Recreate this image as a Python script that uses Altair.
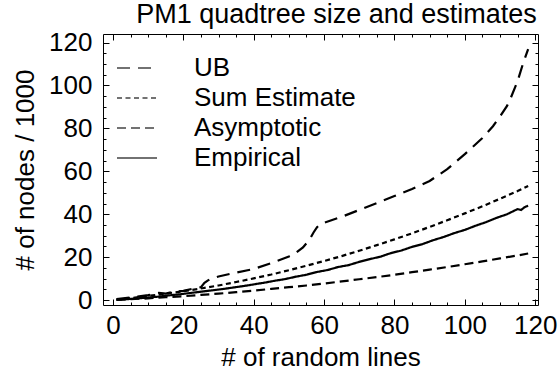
import altair as alt
import pandas as pd

FONT = "Liberation Sans"
series_names = ["UB", "Sum Estimate", "Asymptotic", "Empirical"]

ub_x = [1, 5, 10, 13, 15, 17, 20, 23, 25, 26, 27, 28, 30, 35, 40, 45, 50, 52, 54, 56,
        57, 58, 59, 60, 65, 70, 75, 80, 85, 90, 95, 100, 102, 105, 108, 110, 112, 113, 115, 116.5, 118]
ub_y = [0.5, 1.2, 2.3, 3.3, 3.0, 3.8, 4.3, 5.4, 6.0, 8.0, 9.2, 10.0, 11.0, 12.8, 14.5, 17.2, 20.3, 22.0, 24.5, 28.5,
        31.5, 34.0, 35.5, 36.0, 38.8, 42.0, 45.2, 48.5, 51.8, 55.5, 61.0, 68.0, 71.0, 75.5, 81.0, 85.5, 90.5, 94.0, 102.0, 110.0, 117.0]

sum_x = [1, 5, 10, 15, 20, 25, 30, 35, 40, 45, 50, 55, 60, 65, 70, 75, 80, 85, 90, 95, 100, 105, 110, 115, 118]
sum_y = [0.2, 0.9, 1.9, 3.0, 4.1, 5.4, 6.8, 8.4, 10.1, 11.9, 13.9, 16.0, 18.2, 20.5, 23.0, 25.6, 28.3, 31.1, 34.1, 37.2, 40.4, 43.7, 47.2, 50.8, 53.2]

asym_x = [1, 5, 10, 15, 20, 25, 30, 35, 40, 45, 50, 55, 60, 65, 70, 75, 80, 85, 90, 95, 100, 105, 110, 115, 118]
asym_y = [0.1, 0.4, 0.8, 1.3, 1.8, 2.4, 3.0, 3.7, 4.4, 5.2, 6.0, 6.8, 7.7, 8.7, 9.7, 10.7, 11.8, 13.0, 14.2, 15.4, 16.7, 18.0, 19.4, 20.8, 21.7]

emp_x = [1, 4, 7, 10, 13, 16, 19, 22, 25, 28, 31, 34, 37, 40, 43, 46, 49, 52, 55, 58, 61, 64, 67, 70,
         73, 76, 79, 82, 85, 88, 91, 94, 97, 100, 103, 106, 109, 112, 114, 115, 116, 117, 118]
emp_y = [0.1, 0.4, 0.8, 1.2, 1.6, 2.2, 2.7, 3.3, 3.9, 4.5, 5.1, 5.8, 6.5, 7.3, 8.1, 9.0, 9.8, 10.9, 11.8, 13.1, 14.0, 15.4, 16.3, 17.8,
         19.1, 20.2, 21.9, 23.1, 24.8, 26.1, 27.9, 29.4, 31.2, 32.7, 34.6, 36.3, 38.3, 40.0, 41.6, 42.4, 42.0, 43.3, 44.0]

dash_patterns = [[13, 8], [5, 3.5], [9, 5], [1, 0]]
major_ticks = [0, 20, 40, 60, 80, 100, 120]
minor_ticks = list(range(0, 121, 5))

rows = []
for name, xs, ys in [("UB", ub_x, ub_y), ("Sum Estimate", sum_x, sum_y),
                     ("Asymptotic", asym_x, asym_y), ("Empirical", emp_x, emp_y)]:
    for a, b in zip(xs, ys):
        rows.append({"series": name, "lines": a, "nodes": b})
df = pd.DataFrame(rows)

x_scale = alt.Scale(domain=[-2.84, 120.8], nice=False, zero=False)
y_scale = alt.Scale(domain=[-2.3, 124], nice=False, zero=False)


def tick_axis(orient, values, size):
    return alt.Axis(orient=orient, values=values, labels=False, title=None, domain=False,
                    grid=False, ticks=True, tickSize=size, offset=-size, tickColor="black",
                    tickWidth=1)


def tick_layer(ox, oy, values, size):
    return alt.Chart(df).mark_line(opacity=0).encode(
        x=alt.X("lines:Q", scale=x_scale, axis=tick_axis(ox, values, size)),
        y=alt.Y("nodes:Q", scale=y_scale, axis=tick_axis(oy, values, size)),
        detail="series:N",
    )


lines = alt.Chart(df).mark_line(color="black", strokeWidth=2.2).encode(
    x=alt.X("lines:Q", scale=x_scale,
            axis=alt.Axis(title="# of random lines", values=major_ticks, ticks=False, tickSize=0,
                          domain=False, grid=False, labelPadding=7, titlePadding=6,
                          labelFlush=False, labelOverlap=False, format="d")),
    y=alt.Y("nodes:Q", scale=y_scale,
            axis=alt.Axis(title="# of nodes / 1000", values=major_ticks, ticks=False, tickSize=0,
                          domain=False, grid=False, labelPadding=11, titlePadding=10,
                          labelFlush=False, labelOverlap=False, format="d")),
    strokeDash=alt.StrokeDash(
        "series:N",
        scale=alt.Scale(domain=series_names, range=dash_patterns),
        sort=series_names,
        legend=alt.Legend(title=None, orient="none", legendX=21, legendY=21, padding=0,
                          symbolType="M-2,0H2", symbolSize=400, symbolStrokeWidth=1.3,
                          symbolStrokeColor="#444", symbolFillColor="transparent",
                          labelFont=FONT, labelFontSize=26,
                          labelColor="black", labelOffset=44, rowPadding=4, labelLimit=400),
    ),
)

chart = alt.layer(
    lines,
    tick_layer("bottom", "left", major_ticks, 6),
    tick_layer("bottom", "left", minor_ticks, 3),
    tick_layer("top", "right", major_ticks, 6),
    tick_layer("top", "right", minor_ticks, 3),
).resolve_axis(x="independent", y="independent").properties(
    width=435,
    height=271,
    padding={"left": 103, "top": 34, "right": 21, "bottom": 76},
    autosize=alt.AutoSizeParams(type="none"),
    title=alt.TitleParams("PM1 quadtree size and estimates", font=FONT, fontSize=27,
                          fontWeight="normal", color="black", anchor="middle", dx=16, offset=1),
).configure_view(stroke="black", strokeWidth=1).configure_axis(
    labelFont=FONT, titleFont=FONT, labelFontSize=26, titleFontSize=26,
    labelColor="black", titleColor="black", titleFontWeight="normal",
)

chart.save("out.html", embed_options={"renderer": "svg", "actions": False})
